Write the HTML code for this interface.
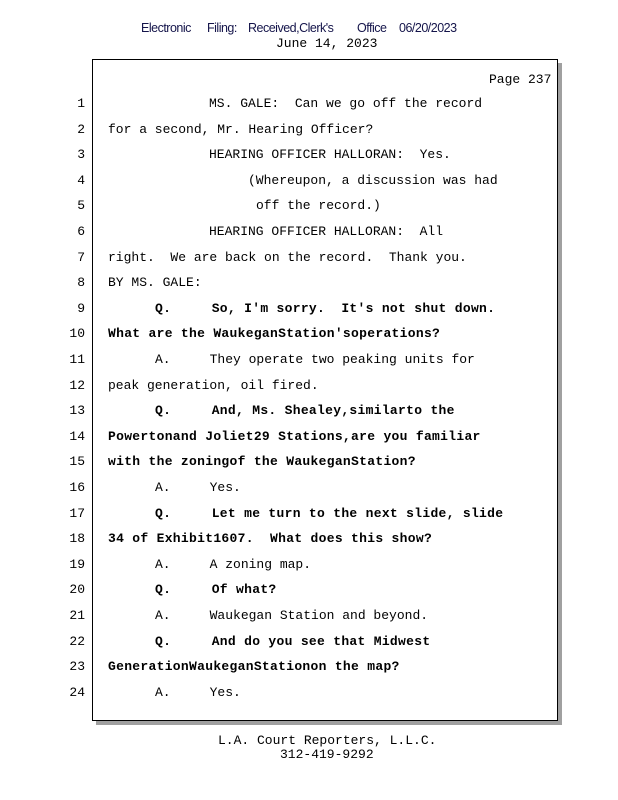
<!DOCTYPE html>
<html><head><meta charset="utf-8"><style>
body{margin:0;width:618px;height:800px;background:#fff;position:relative;font-family:"Liberation Mono",monospace;font-size:13px;color:#000;overflow:hidden}
.a{position:absolute;white-space:pre;line-height:16px}
.n{position:absolute;left:60px;width:25px;text-align:right;line-height:16px}
.b{font-weight:bold;letter-spacing:0.3px}
#sh{position:absolute;left:96px;top:63px;width:466px;height:662px;background:#a0a0a0}
#bx{position:absolute;left:92px;top:59px;width:464px;height:660px;border:1px solid #000;background:#fff}
.h{position:absolute;font-family:"Liberation Sans",sans-serif;font-size:12.5px;color:#14144a;letter-spacing:-0.5px;top:21px}
</style></head><body>
<div class="h" style="left:141px">Electronic</div>
<div class="h" style="left:207px">Filing:</div>
<div class="h" style="left:248px">Received,Clerk's</div>
<div class="h" style="left:357px">Office</div>
<div class="h" style="left:399px">06/20/2023</div>
<div class="a" style="left:276px;top:36px">June 14, 2023</div>
<div id="sh"></div><div id="bx"></div>
<div class="a" style="left:489px;top:72px">Page 237</div>
<div class="n" style="top:96px">1</div><div class="a" style="left:209px;top:96px">MS. GALE:  Can we go off the record</div>
<div class="n" style="top:122px">2</div><div class="a" style="left:108px;top:122px">for a second, Mr. Hearing Officer?</div>
<div class="n" style="top:147px">3</div><div class="a" style="left:209px;top:147px">HEARING OFFICER HALLORAN:  Yes.</div>
<div class="n" style="top:173px">4</div><div class="a" style="left:248px;top:173px">(Whereupon, a discussion was had</div>
<div class="n" style="top:198px">5</div><div class="a" style="left:256px;top:198px">off the record.)</div>
<div class="n" style="top:224px">6</div><div class="a" style="left:209px;top:224px">HEARING OFFICER HALLORAN:  All</div>
<div class="n" style="top:250px">7</div><div class="a" style="left:108px;top:250px">right.  We are back on the record.  Thank you.</div>
<div class="n" style="top:275px">8</div><div class="a" style="left:108px;top:275px">BY MS. GALE:</div>
<div class="n" style="top:301px">9</div><div class="a b" style="left:155px;top:301px">Q.     So, I'm sorry.  It's not shut down.</div>
<div class="n" style="top:326px">10</div><div class="a b" style="left:108px;top:326px">What are the WaukeganStation'soperations?</div>
<div class="n" style="top:352px">11</div><div class="a" style="left:155px;top:352px">A.     They operate two peaking units for</div>
<div class="n" style="top:378px">12</div><div class="a" style="left:108px;top:378px">peak generation, oil fired.</div>
<div class="n" style="top:403px">13</div><div class="a b" style="left:155px;top:403px">Q.     And, Ms. Shealey,similarto the</div>
<div class="n" style="top:429px">14</div><div class="a b" style="left:108px;top:429px">Powertonand Joliet29 Stations,are you familiar</div>
<div class="n" style="top:454px">15</div><div class="a b" style="left:108px;top:454px">with the zoningof the WaukeganStation?</div>
<div class="n" style="top:480px">16</div><div class="a" style="left:155px;top:480px">A.     Yes.</div>
<div class="n" style="top:506px">17</div><div class="a b" style="left:155px;top:506px">Q.     Let me turn to the next slide, slide</div>
<div class="n" style="top:531px">18</div><div class="a b" style="left:108px;top:531px">34 of Exhibit1607.  What does this show?</div>
<div class="n" style="top:557px">19</div><div class="a" style="left:155px;top:557px">A.     A zoning map.</div>
<div class="n" style="top:582px">20</div><div class="a b" style="left:155px;top:582px">Q.     Of what?</div>
<div class="n" style="top:608px">21</div><div class="a" style="left:155px;top:608px">A.     Waukegan Station and beyond.</div>
<div class="n" style="top:634px">22</div><div class="a b" style="left:155px;top:634px">Q.     And do you see that Midwest</div>
<div class="n" style="top:659px">23</div><div class="a b" style="left:108px;top:659px">GenerationWaukeganStationon the map?</div>
<div class="n" style="top:685px">24</div><div class="a" style="left:155px;top:685px">A.     Yes.</div>
<div class="a" style="left:218px;top:733px">L.A. Court Reporters, L.L.C.</div>
<div class="a" style="left:280px;top:747px">312-419-9292</div>
</body></html>
